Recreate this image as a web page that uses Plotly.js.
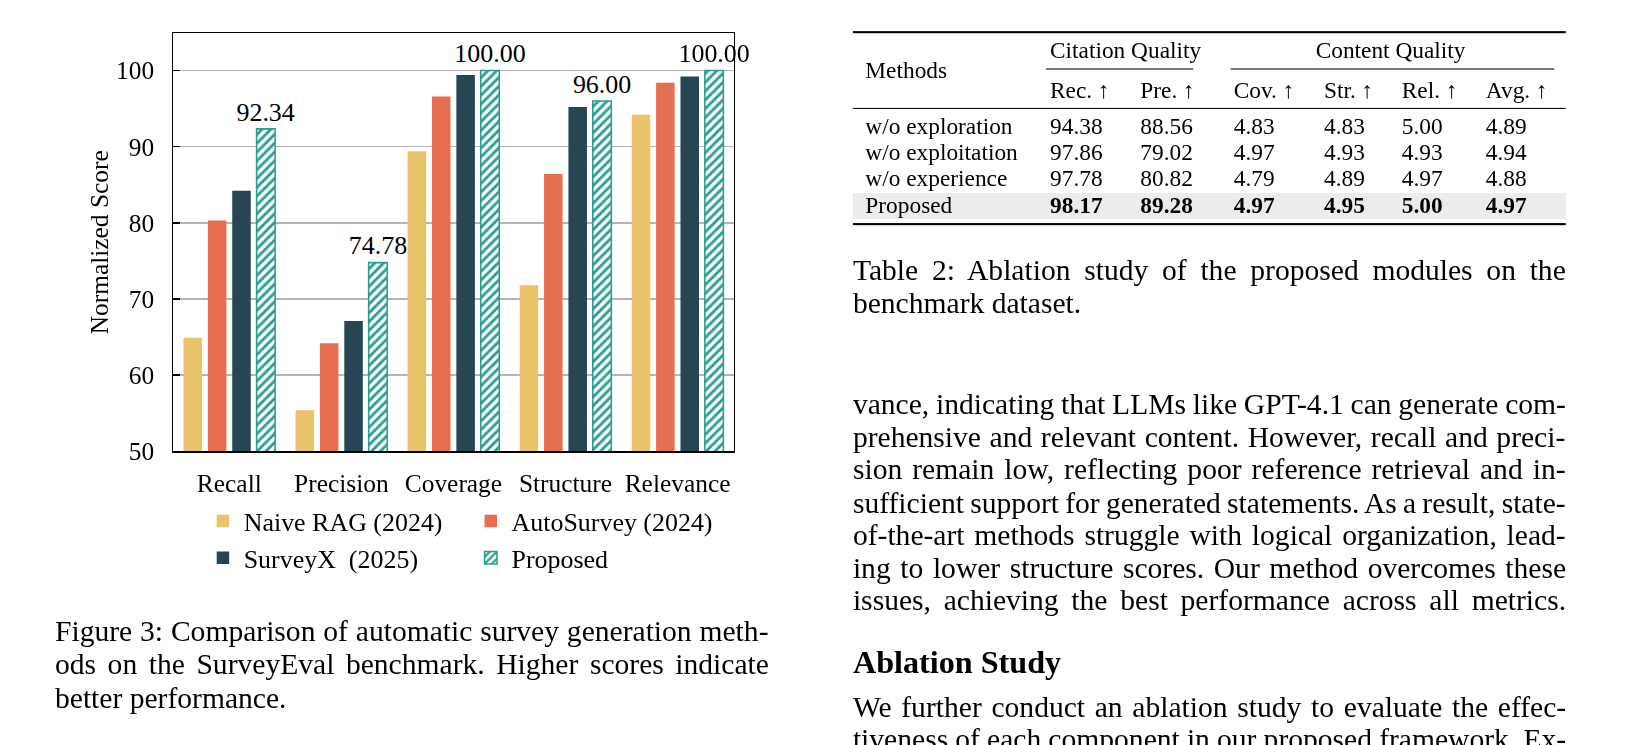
<!DOCTYPE html>
<html><head><meta charset="utf-8">
<script src="https://cdn.plot.ly/plotly-3.0.1.min.js"></script>
<style>
html,body{margin:0;padding:0;background:#fff;overflow:hidden;width:1627px;height:745px;}
#page{position:absolute;left:0;top:0;width:1568px;height:718px;transform-origin:0 0;transform:scale(1.0376);font-family:"Liberation Serif","Times New Roman",serif;color:#000;}
.ln{position:absolute;white-space:nowrap;}
.rule{position:absolute;background:#000;}
#chart{position:absolute;left:0;top:0;width:760px;height:580px;}
</style></head>
<body><div id="page"><div id="chart"></div></div>
<script>
// ---- chart data ----
const categories = ['Recall', 'Precision', 'Coverage', 'Structure', 'Relevance'];
const naiveRag   = [64.9, 55.4, 89.4, 71.8, 94.2];
const autoSurvey = [80.3, 64.2, 96.6, 86.4, 98.4];
const surveyX    = [84.2, 67.1, 99.4, 95.2, 99.2];
const proposed   = [92.34, 74.78, 100.00, 96.00, 100.00];
const seriesNames = ['Naive RAG (2024)', 'AutoSurvey (2024)', 'SurveyX\u00a0 (2025)', 'Proposed'];
const yTicks = [50, 60, 70, 80, 90, 100];

// ---- table data ----
const tableMethods = ['w/o exploration', 'w/o exploitation', 'w/o experience', 'Proposed'];
const tableGroups = ['Citation Quality', 'Content Quality'];
const tableHeaders = ['Rec. \u2191', 'Pre. \u2191', 'Cov. \u2191', 'Str. \u2191', 'Rel. \u2191', 'Avg. \u2191'];
const recCol = [94.38, 97.86, 97.78, 98.17];
const preCol = [88.56, 79.02, 80.82, 89.28];
const covCol = [4.83, 4.97, 4.79, 4.97];
const strCol = [4.83, 4.93, 4.89, 4.95];
const relCol = [5.00, 4.93, 4.97, 5.00];
const avgCol = [4.89, 4.94, 4.88, 4.97];

// ---- text ----
const figCaption = [
  'Figure 3: Comparison of automatic survey generation meth-',
  'ods on the SurveyEval benchmark. Higher scores indicate',
  'better performance.'
];
const tabCaption = [
  'Table 2: Ablation study of the proposed modules on the',
  'benchmark dataset.'
];
const paragraph = [
  'vance, indicating that LLMs like GPT-4.1 can generate com-',
  'prehensive and relevant content. However, recall and preci-',
  'sion remain low, reflecting poor reference retrieval and in-',
  'sufficient support for generated statements. As a result, state-',
  'of-the-art methods struggle with logical organization, lead-',
  'ing to lower structure scores. Our method overcomes these',
  'issues, achieving the best performance across all metrics.'
];
const heading = 'Ablation Study';
const paragraph2 = [
  'We further conduct an ablation study to evaluate the effec-',
  'tiveness of each component in our proposed framework. Ex-'
];

const page = document.getElementById('page');
function addText(txt, left, cy, width, size, opts) {
  opts = opts || {};
  const lh = opts.lh || Math.round(size * 1.25);
  const d = document.createElement('div');
  d.className = 'ln';
  d.style.left = left + 'px';
  d.style.top = (cy - lh / 2) + 'px';
  d.style.height = lh + 'px';
  d.style.lineHeight = lh + 'px';
  d.style.fontSize = size + 'px';
  if (opts.bold) d.style.fontWeight = 'bold';
  d.textContent = txt;
  page.appendChild(d);
  if (opts.justify && width) {
    const w = d.offsetWidth;
    const n = (txt.match(/ /g) || []).length;
    if (n > 0) d.style.wordSpacing = ((width - w) / n) + 'px';
  }
}
function addRect(left, top, w, h, color) {
  const d = document.createElement('div');
  d.className = 'rule';
  d.style.left = left + 'px'; d.style.top = top + 'px';
  d.style.width = w + 'px'; d.style.height = h + 'px';
  if (color) d.style.background = color;
  page.appendChild(d);
}

const BFS = 28.5;
// figure caption
const capY = [609, 641, 673];
figCaption.forEach((t, i) => addText(t, 53, capY[i], 688, BFS, {justify: i < figCaption.length - 1, lh: 32}));

// table
const TL = 822, TW = 687;
addRect(TL, 186, TW, 25, '#ececec');
addRect(TL, 30, TW, 2);
addRect(1008, 66, 142, 1);
addRect(1186, 66, 312, 1);
addRect(TL, 103.5, TW, 1.3);
addRect(TL, 215, TW, 2);
const TFS = 22.5;
const colX = [1012, 1099, 1189, 1276, 1351, 1432];
addText(tableGroups[0], 1012, 49, 0, TFS);
addText(tableGroups[1], 1268, 49, 0, TFS);
addText('Methods', 834, 68, 0, TFS);
tableHeaders.forEach((h, i) => addText(h, colX[i], 87, 0, TFS));
const rowY = [122, 147, 172, 198];
const cols = [recCol, preCol, covCol, strCol, relCol, avgCol];
tableMethods.forEach((m, r) => {
  addText(m, 834, rowY[r], 0, TFS);
  cols.forEach((c, ci) => addText(c[r].toFixed(2), colX[ci], rowY[r], 0, TFS, {bold: r === tableMethods.length - 1}));
});

// table caption
tabCaption.forEach((t, i) => addText(t, TL, [261, 293][i], TW, BFS, {justify: i < tabCaption.length - 1, lh: 32}));

// paragraph
const pY = [390, 422, 453, 485, 516, 548, 579];
paragraph.forEach((t, i) => addText(t, TL, pY[i], TW, BFS, {justify: true, lh: 32}));
addText(heading, TL, 639, 0, 31, {bold: true, lh: 36});
paragraph2.forEach((t, i) => addText(t, TL, [682, 713][i], TW, BFS, {justify: true, lh: 32}));

// ---- chart ----
const colors = ['#e9c46a', '#e76f51', '#264653', '#2a9d8f'];
const traces = [
  {type: 'bar', name: seriesNames[0], x: categories, y: naiveRag, marker: {color: colors[0]}, legend: 'legend'},
  {type: 'bar', name: seriesNames[1], x: categories, y: autoSurvey, marker: {color: colors[1]}, legend: 'legend2'},
  {type: 'bar', name: seriesNames[2], x: categories, y: surveyX, marker: {color: colors[2]}, legend: 'legend'},
  {type: 'bar', name: seriesNames[3], x: categories, y: proposed,
   marker: {color: 'white', line: {color: colors[3], width: 1.5},
            pattern: {shape: '/', fgcolor: colors[3], bgcolor: 'white', size: 6, solidity: 0.45, fillmode: 'replace'}},
   text: proposed.map(v => v.toFixed(2)), textposition: 'outside', constraintext: 'none', cliponaxis: false,
   textfont: {size: 25, color: '#000', family: 'Liberation Serif, serif'}, legend: 'legend2'}
];
const legendCommon = {orientation: 'v', xanchor: 'left', yanchor: 'top', bgcolor: 'rgba(0,0,0,0)',
  font: {size: 25, family: 'Liberation Serif, serif', color: '#000'}, itemwidth: 30, traceorder: 'normal'};
const layout = {
  width: 760, height: 580,
  margin: {l: 167, r: 53, t: 32, b: 145},
  paper_bgcolor: 'rgba(0,0,0,0)', plot_bgcolor: 'white',
  font: {family: 'Liberation Serif, serif', size: 24.5, color: '#000'},
  barmode: 'group', bargap: 0.13, bargroupgap: 0.24,
  showlegend: true,
  legend: Object.assign({}, legendCommon, {x: 0.0516, y: -0.110}),
  legend2: Object.assign({}, legendCommon, {x: 0.5296, y: -0.110}),
  xaxis: {type: 'category', range: [-0.5, 4.5], showline: true, linecolor: '#000', linewidth: 1.5, mirror: true,
          ticks: '', showgrid: false, tickfont: {size: 24.5}, ticklabelstandoff: 8},
  yaxis: {range: [50, 104.9], tickvals: yTicks, showline: true, linecolor: '#000', linewidth: 1.5, mirror: true,
          ticks: 'inside', ticklen: 6, tickwidth: 1.5, tickcolor: '#000', showgrid: true, gridcolor: '#b4b4b4',
          gridwidth: 1.5, zeroline: false, tickfont: {size: 24.5}, ticklabelstandoff: 12,
          title: {text: 'Normalized Score', font: {size: 24.5}, standoff: 0}}
};
Plotly.newPlot('chart', traces, layout, {displayModeBar: false, staticPlot: true});
</script>
</body></html>
